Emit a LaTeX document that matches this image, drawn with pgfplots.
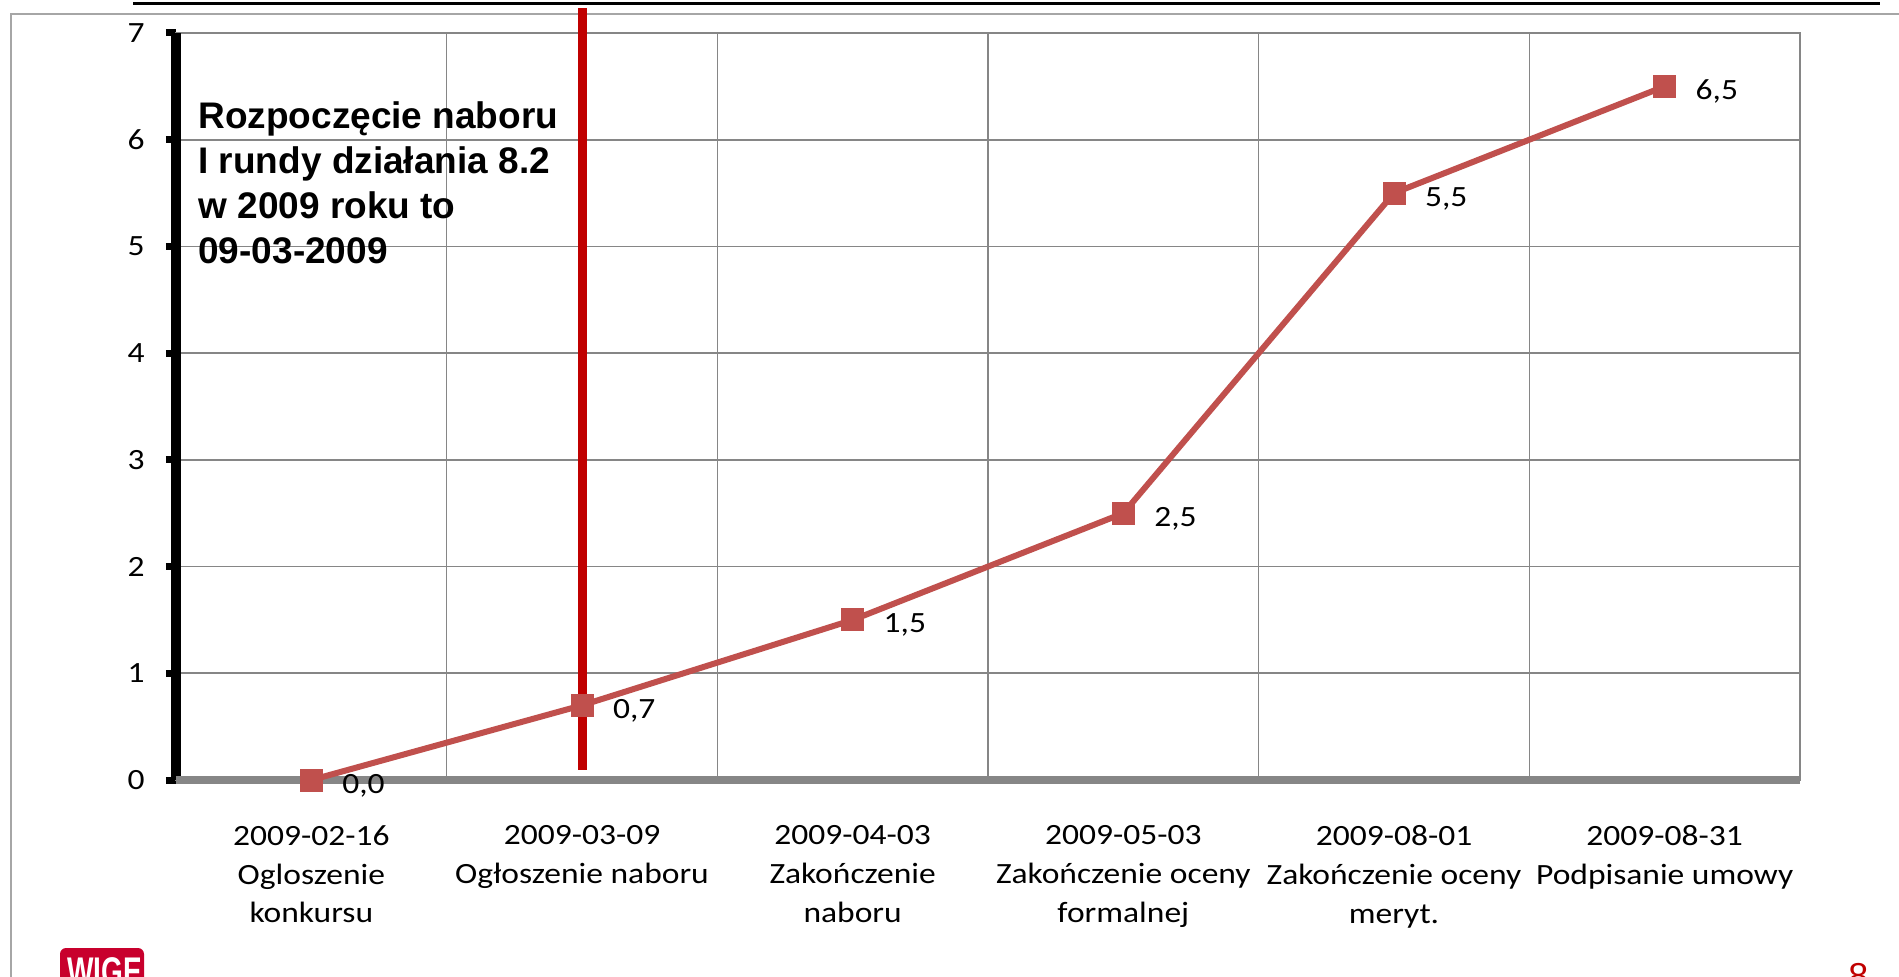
\documentclass[border=0pt]{standalone}
\usepackage{fontspec}
\usepackage{pgfplots}
\usepackage{pgfplotstable}
\pgfplotsset{compat=1.18}
\setmainfont{Carlito}[FakeStretch=1.14]
\newfontfamily\arialfont{Liberation Sans}
\newfontfamily\logofont{Liberation Sans}[FakeStretch=0.7]
\definecolor{gridgray}{HTML}{868686}
\definecolor{serred}{HTML}{C0504D}
\definecolor{slidered}{HTML}{C00000}
\definecolor{logored}{HTML}{C8002D}
\definecolor{framegray}{HTML}{A6A6A6}
\newcommand{\tickfont}{\fontsize{14.7}{19.4}\selectfont}
\pgfplotstableread{
x y lab
0 0.0 0,0
1 0.7 0,7
2 1.5 1,5
3 2.5 2,5
4 5.5 5,5
5 6.5 6,5
}\data
\begin{document}
\begin{tikzpicture}
\path[use as bounding box, clip] (0,0) rectangle (949.5pt,-488.5pt);
\draw[framegray, line width=1pt] (5.5pt,-490pt) -- (5.5pt,-7pt) -- (951pt,-7pt);
\draw[black, line width=1.5pt] (66.5pt,-2pt) -- (940pt,-2pt);
\begin{axis}[
  at={(88pt,-390pt)}, anchor=south west,
  scale only axis, width=812pt, height=373.5pt,
  xmin=-0.5, xmax=5.5, ymin=0, ymax=7,
  clip=false,
  axis line style={draw=gridgray, line width=0.8pt},
  xtick={0,1,2,3,4,5},
  xticklabels={{2009-02-16\\Ogloszenie\\konkursu},{2009-03-09\\Ogłoszenie naboru},{2009-04-03\\Zakończenie\\naboru},{2009-05-03\\Zakończenie oceny\\formalnej},{2009-08-01\\Zakończenie oceny\\meryt.},{2009-08-31\\Podpisanie umowy}},
  minor xtick={0.5,1.5,2.5,3.5,4.5},
  xminorgrids=true, minor x grid style={gridgray, line width=0.8pt},
  ytick={0,1,2,3,4,5,6,7},
  ymajorgrids=true, major y grid style={gridgray, line width=0.8pt},
  tick align=outside, major tick length=5pt, minor tick length=0pt,
  ytick pos=left, xtick pos=bottom,
  xtick style={draw=none}, ytick style={black, line width=3.5pt},
  minor tick style={draw=none},
  /pgf/number format/assume math mode=true,
  tick label style={font=\tickfont},
  yticklabel style={anchor=east, inner sep=0pt, xshift=-10.5pt},
  xticklabel style={anchor=north, inner sep=0pt, align=center, yshift=-17.5pt},
]
\draw[black, line width=5pt] (axis cs:-0.5,0) -- (axis cs:-0.5,7);
\draw[gridgray, line width=4pt] (axis cs:-0.5,0) -- (axis cs:5.5,0);
\addplot[color=serred, line width=3pt, mark=square*, mark size=5.5pt,
  mark options={solid, fill=serred, draw=serred, line width=0pt},
  point meta=explicit symbolic, nodes near coords,
  every node near coord/.append style={anchor=base west, inner sep=0pt, xshift=15.5pt, yshift=-6.5pt, font=\tickfont, text=black}]
  table[x=x, y=y, meta=lab] {\data};
\draw[slidered, line width=4.5pt] (axis cs:1,0.094) -- (axis cs:1,7.23);
\end{axis}
\node[anchor=north west, inner sep=0pt, align=left, font=\arialfont\bfseries\fontsize{18.5}{22.4}\selectfont] at (99pt,-50.75pt) {Rozpoczęcie naboru\\I rundy działania 8.2\\w 2009 roku to\\09-03-2009};
\fill[logored, rounded corners=3pt] (30pt,-474pt) rectangle (72pt,-500pt);
\node[anchor=base west, inner sep=0pt, text=white, font=\logofont\bfseries\fontsize{20}{20}\selectfont] at (33.5pt,-492.8pt) {WIGE};
\node[anchor=base west, inner sep=0pt, text=slidered, font=\arialfont\fontsize{18}{18}\selectfont] at (924pt,-494pt) {8};
\end{tikzpicture}
\end{document}
